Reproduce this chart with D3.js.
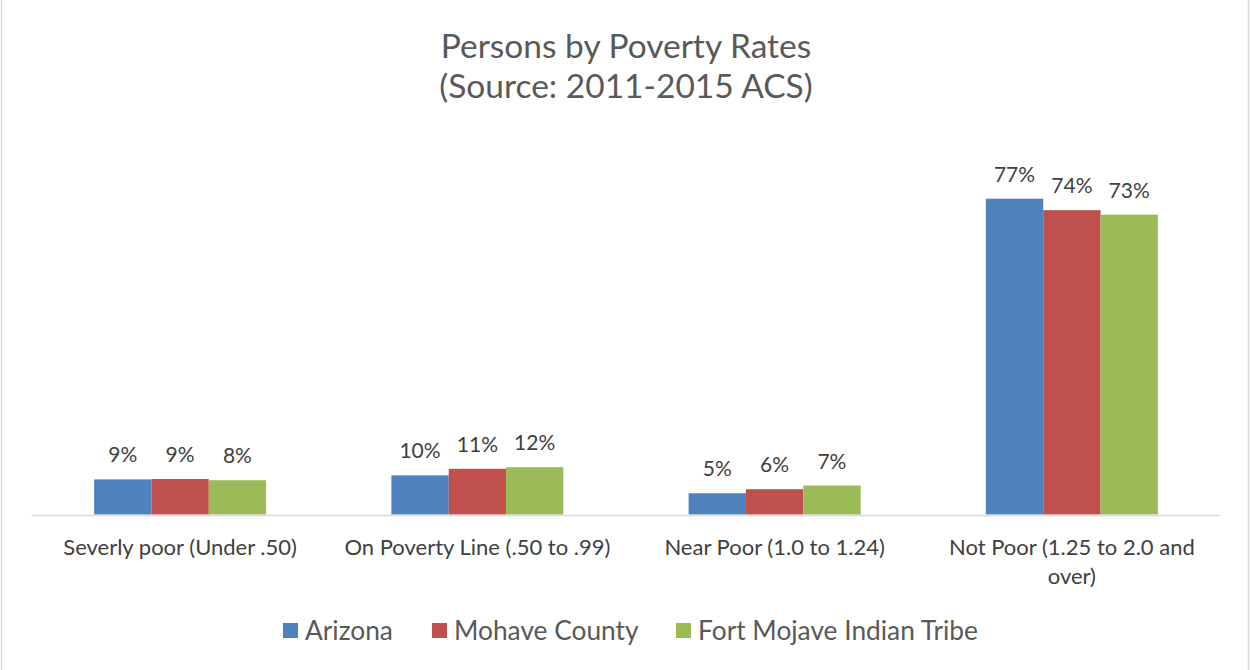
<!DOCTYPE html>
<html>
<head>
<meta charset="utf-8">
<script src="https://cdn.jsdelivr.net/npm/d3@7"></script>
<style>
  body { margin: 0; background: #fff; }
  svg { display: block; font-family: Lato, "Open Sans", sans-serif; }
</style>
</head>
<body>
<svg id="chart" width="1250" height="670"></svg>
<script>
// chart data
let categories = ["Severly poor (Under .50)", "On Poverty Line (.50 to .99)", "Near Poor (1.0 to 1.24)", "Not Poor (1.25 to 2.0 and over)"];
let seriesNames = ["Arizona", "Mohave County", "Fort Mojave Indian Tribe"];
let arizona = [8.6, 9.6, 5.2, 77.4];
let mohave = [8.7, 11.2, 6.2, 74.6];
let fortMojave = [8.4, 11.6, 7.1, 73.5];
let labels = [["9%", "10%", "5%", "77%"], ["9%", "11%", "6%", "74%"], ["8%", "12%", "7%", "73%"]];
let colors = ["#4f81bd", "#c0504d", "#9bbb59"];

let seriesValues = [arizona, mohave, fortMojave];

const svg = d3.select("#chart");

// outer border of the chart area
svg.append("rect")
  .attr("x", 1.5).attr("y", -3)
  .attr("width", 1247).attr("height", 680)
  .attr("fill", "none")
  .attr("stroke", "#d9d9d9")
  .attr("stroke-width", 1.5);

// title
let title = svg.append("text")
  .attr("text-anchor", "middle")
  .attr("fill", "#595959")
  .style("font-size", "33.5px");
title.append("tspan").attr("x", 626).attr("y", 58).text("Persons by Poverty Rates");
title.append("tspan").attr("x", 626).attr("y", 98).text("(Source: 2011-2015 ACS)");

// scales
const x0 = d3.scaleBand()
  .domain(categories)
  .range([31.5, 1220.5])
  .paddingInner(0.4214)
  .paddingOuter(0.2107);

const x1 = d3.scaleBand()
  .domain(seriesNames)
  .range([0, x0.bandwidth()]);

const y = d3.scaleLinear()
  .domain([0, 90])
  .range([514.5, 147.3]);

// bars
seriesNames.forEach((name, s) => {
  svg.append("g").selectAll("rect")
    .data(seriesValues[s])
    .join("rect")
    .attr("x", (d, i) => x0(categories[i]) + x1(name))
    .attr("y", d => y(d))
    .attr("width", x1.bandwidth())
    .attr("height", d => y(0) - y(d))
    .attr("fill", colors[s]);

  svg.append("g").selectAll("text")
    .data(seriesValues[s])
    .join("text")
    .attr("x", (d, i) => x0(categories[i]) + x1(name) + x1.bandwidth() / 2)
    .attr("y", d => y(d) - 17)
    .attr("text-anchor", "middle")
    .attr("fill", "#404040")
    .style("font-size", "21px")
    .text((d, i) => labels[s][i]);
});

// x axis line
svg.append("line")
  .attr("x1", 31.5).attr("x2", 1220.5)
  .attr("y1", 515.5).attr("y2", 515.5)
  .attr("stroke", "#d9d9d9")
  .attr("stroke-width", 1.5);

// category labels (the last one wraps onto two lines)
let catLines = [["Severly poor (Under .50)"], ["On Poverty Line (.50 to .99)"], ["Near Poor (1.0 to 1.24)"], ["Not Poor (1.25 to 2.0 and", "over)"]];
categories.forEach((c, i) => {
  let t = svg.append("text")
    .attr("text-anchor", "middle")
    .attr("fill", "#404040")
    .style("font-size", "22px");
  catLines[i].forEach((line, k) => {
    t.append("tspan")
      .attr("x", x0(c) + x0.bandwidth() / 2)
      .attr("y", 555 + k * 28.5)
      .text(line);
  });
});

// legend
let legendX = [283, 432, 676];
let legend = svg.append("g");
seriesNames.forEach((name, s) => {
  legend.append("rect")
    .attr("x", legendX[s]).attr("y", 623)
    .attr("width", 15).attr("height", 15)
    .attr("fill", colors[s]);
  legend.append("text")
    .attr("x", legendX[s] + 22).attr("y", 639.5)
    .attr("fill", "#595959")
    .style("font-size", "26.3px")
    .text(name);
});
</script>
</body>
</html>
